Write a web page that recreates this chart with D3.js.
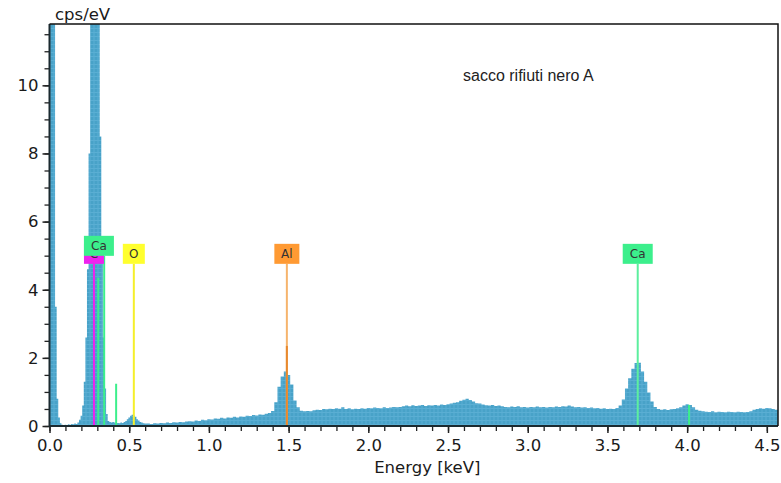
<!DOCTYPE html>
<html>
<head>
<meta charset="utf-8">
<script src="https://cdn.jsdelivr.net/npm/d3@7"></script>
<style>
  body { margin: 0; background: #fff; }
  svg { display: block; }
</style>
</head>
<body>
<div id="chart"></div>
<script>
// spectrum: energy (keV) and counts (cps/eV)
var energyLow = [0.00,0.01,0.02,0.03,0.04,0.05,0.06,0.07,0.08,0.09,
  0.10,0.11,0.12,0.13,0.14,0.15,0.16,0.17,0.18,0.19,
  0.20,0.21,0.22,0.23,0.24,0.25,0.26,0.27,0.28,0.29,
  0.30,0.31,0.32,0.33,0.34,0.35,0.36,0.37,0.38,0.39,
  0.40,0.41,0.42,0.43,0.44,0.45,0.46,0.47,0.48,0.49,
  0.50,0.51,0.52,0.53,0.54,0.55,0.56,0.57,0.58,0.59,0.60];
var countsLow = [14,14,14,14,3.5,0.8,0.25,0.08,0.04,0.03,
  0.04,0.03,0.05,0.04,0.06,0.05,0.07,0.06,0.10,0.18,
  0.30,0.60,1.3,2.6,4.6,8.0,14,14,14,14,
  14,14,8.5,4.8,2.6,1.1,0.35,0.15,0.12,0.10,
  0.12,0.10,0.08,0.09,0.08,0.10,0.09,0.12,0.15,0.20,
  0.25,0.30,0.33,0.31,0.27,0.20,0.16,0.12,0.10,0.08,0.07];

// from 0.62 keV on, one value every 0.02 keV
var energyHigh = [0.62,0.64,0.66,0.68,0.70,0.72,0.74,0.76,0.78,0.80,
  0.82,0.84,0.86,0.88,0.90,0.92,0.94,0.96,0.98,1.00,
  1.02,1.04,1.06,1.08,1.10,1.12,1.14,1.16,1.18,1.20,
  1.22,1.24,1.26,1.28,1.30,1.32,1.34,1.36,1.38,1.40,
  1.42,1.44,1.46,1.48,1.50,1.52,1.54,1.56,1.58,1.60,
  1.62,1.64,1.66,1.68,1.70,1.72,1.74,1.76,1.78,1.80,
  1.82,1.84,1.86,1.88,1.90,1.92,1.94,1.96,1.98,2.00,
  2.02,2.04,2.06,2.08,2.10,2.12,2.14,2.16,2.18,2.20,
  2.22,2.24,2.26,2.28,2.30,2.32,2.34,2.36,2.38,2.40,
  2.42,2.44,2.46,2.48,2.50,2.52,2.54,2.56,2.58,2.60,
  2.62,2.64,2.66,2.68,2.70,2.72,2.74,2.76,2.78,2.80,
  2.82,2.84,2.86,2.88,2.90,2.92,2.94,2.96,2.98,3.00,
  3.02,3.04,3.06,3.08,3.10,3.12,3.14,3.16,3.18,3.20,
  3.22,3.24,3.26,3.28,3.30,3.32,3.34,3.36,3.38,3.40,
  3.42,3.44,3.46,3.48,3.50,3.52,3.54,3.56,3.58,3.60,
  3.62,3.64,3.66,3.68,3.70,3.72,3.74,3.76,3.78,3.80,
  3.82,3.84,3.86,3.88,3.90,3.92,3.94,3.96,3.98,4.00,
  4.02,4.04,4.06,4.08,4.10,4.12,4.14,4.16,4.18,4.20,
  4.22,4.24,4.26,4.28,4.30,4.32,4.34,4.36,4.38,4.40,
  4.42,4.44,4.46,4.48,4.50,4.52,4.54,4.56,4.58];
var countsHigh = [0.07,0.06,0.08,0.07,0.09,0.08,0.10,0.09,0.11,0.10,
  0.12,0.11,0.13,0.14,0.13,0.16,0.15,0.18,0.17,0.20,
  0.19,0.22,0.21,0.24,0.22,0.25,0.24,0.27,0.25,0.28,
  0.27,0.30,0.29,0.32,0.31,0.34,0.33,0.36,0.38,0.44,
  0.70,1.15,1.45,1.60,1.50,1.22,0.75,0.55,0.45,0.43,
  0.44,0.43,0.46,0.48,0.47,0.50,0.49,0.51,0.50,0.52,
  0.51,0.55,0.50,0.52,0.49,0.51,0.50,0.52,0.51,0.53,
  0.52,0.54,0.53,0.52,0.55,0.53,0.54,0.56,0.55,0.56,
  0.58,0.60,0.58,0.61,0.59,0.60,0.62,0.59,0.61,0.60,
  0.62,0.60,0.63,0.62,0.64,0.66,0.68,0.70,0.74,0.77,
  0.80,0.76,0.72,0.67,0.66,0.63,0.61,0.60,0.62,0.59,
  0.60,0.58,0.56,0.55,0.57,0.56,0.58,0.55,0.56,0.54,
  0.56,0.55,0.57,0.55,0.56,0.54,0.56,0.55,0.57,0.56,
  0.58,0.57,0.60,0.57,0.55,0.56,0.54,0.55,0.53,0.54,
  0.52,0.53,0.51,0.52,0.50,0.51,0.50,0.53,0.60,0.78,
  1.10,1.40,1.68,1.85,1.86,1.60,1.30,0.98,0.72,0.56,
  0.50,0.48,0.49,0.47,0.49,0.50,0.52,0.55,0.60,0.64,
  0.62,0.55,0.48,0.45,0.43,0.42,0.41,0.43,0.40,0.42,
  0.41,0.40,0.42,0.41,0.40,0.42,0.41,0.40,0.41,0.43,
  0.48,0.50,0.52,0.51,0.53,0.52,0.50,0.48,0.47];

// element labels
var labelNames  = ["C", "Ca", "O", "Al", "Ca"];
var labelEnergy = [0.279, 0.31, 0.529, 1.489, 3.69];
var labelColors = ["#ee22ee", "#3cef8c", "#ffff2e", "#ff9a33", "#3cef8c"];

// element lines: energy, height (cps/eV), colour
var lineEnergy = [0.279, 0.306, 0.343, 0.418, 0.529, 1.489, 1.489, 3.69, 4.012];
var lineHeight = [4.76, 4.35, 5.0, 1.24, 4.76, 4.76, 2.35, 4.76, 0.62];
var lineColors = ["#ee22ee", "#3cef8c", "#3cef8c", "#3cef8c", "#f5ef2a",
                  "#f6b46c", "#e8892e", "#5cef9e", "#3cef8c"];

var sampleName = "sacco rifiuti nero A";

var svgWidth = 781, svgHeight = 483;
var margin = { top: 24, right: 3, bottom: 57, left: 49.5 };
var width = svgWidth - margin.left - margin.right;
var height = svgHeight - margin.top - margin.bottom;

var svg = d3.select("#chart").append("svg")
  .attr("width", svgWidth)
  .attr("height", svgHeight);

var defs = svg.append("defs");
defs.append("clipPath").attr("id", "plotclip")
  .append("rect").attr("width", width).attr("height", height);

// the blue fill has a faint grid texture
var pat = defs.append("pattern").attr("id", "grid")
  .attr("patternUnits", "userSpaceOnUse")
  .attr("width", 4).attr("height", 4);
pat.append("rect").attr("width", 4).attr("height", 4).attr("fill", "#48a2c8");
pat.append("path").attr("d", "M0,0.5H4M0.5,0V4")
  .attr("stroke", "#5aaed3").attr("stroke-width", 1);

var chartGroup = svg.append("g")
  .attr("transform", `translate(${margin.left}, ${margin.top})`);

var x = d3.scaleLinear().domain([0, 4.57]).range([0, width]);
var y = d3.scaleLinear().domain([0, 11.8]).range([height, 0]);

var spectrum = energyLow.map((e, i) => ({ e: e, v: countsLow[i] }))
  .concat(energyHigh.map((e, i) => ({ e: e, v: countsHigh[i] })));

var area = d3.area()
  .x(d => x(d.e))
  .y0(y(0))
  .y1(d => y(d.v))
  .curve(d3.curveStep);

var plot = chartGroup.append("g").attr("clip-path", "url(#plotclip)");

plot.append("path")
  .datum(spectrum)
  .attr("d", area)
  .attr("fill", "url(#grid)");

// element lines
plot.selectAll(".eline")
  .data(lineEnergy)
  .enter()
  .append("line")
  .attr("x1", d => x(d))
  .attr("x2", d => x(d))
  .attr("y1", y(0))
  .attr("y2", (d, i) => y(lineHeight[i]))
  .attr("stroke", (d, i) => lineColors[i])
  .attr("stroke-width", 2);

// element label boxes
var labelFont = "12px 'DejaVu Sans', sans-serif";
var boxH = 20;
var prevRight = -1e9;
labelNames.forEach(function (name, i) {
  var cx = x(labelEnergy[i]);
  var w = name.length === 1 ? (name === "C" ? 20 : 22) : (name === "Al" ? 25 : 30);
  var top = y(4.76) - boxH;
  if (cx - w / 2 < prevRight) top -= 8;
  prevRight = cx + w / 2;
  var g = chartGroup.append("g");
  g.append("rect")
    .attr("x", cx - w / 2).attr("y", top)
    .attr("width", w).attr("height", boxH)
    .attr("fill", labelColors[i]);
  g.append("text")
    .attr("x", cx).attr("y", top + 14.5)
    .attr("text-anchor", "middle")
    .style("font", labelFont)
    .style("fill", "#333")
    .text(name);
});

// axes
var tickFont = "16.5px 'DejaVu Sans', sans-serif";
var xMajor = d3.range(0, 4.51, 0.5);
var xMinor = d3.range(0, 4.57, 0.1);
var yMinor = d3.range(0, 11.6, 0.5);
var yMajor = d3.range(0, 11, 2);

chartGroup.append("g")
  .attr("transform", `translate(0, ${height})`)
  .call(d3.axisBottom(x).tickValues(xMinor).tickSize(5).tickFormat(""))
  .call(g => g.select(".domain").remove())
  .selectAll("line").attr("stroke", "#222").attr("stroke-width", 1.3);

chartGroup.append("g")
  .attr("transform", `translate(0, ${height})`)
  .call(d3.axisBottom(x).tickValues(xMajor).tickSize(7).tickPadding(6)
    .tickFormat(d3.format(".1f")))
  .call(g => g.select(".domain").remove())
  .call(g => g.selectAll("line").attr("stroke", "#222").attr("stroke-width", 1.5))
  .call(g => g.selectAll("text").style("font", tickFont).style("fill", "#1a1a1a"));

chartGroup.append("g")
  .call(d3.axisLeft(y).tickValues(yMinor).tickSize(5).tickFormat(""))
  .call(g => g.select(".domain").remove())
  .selectAll("line").attr("stroke", "#222").attr("stroke-width", 1.3);

chartGroup.append("g")
  .call(d3.axisLeft(y).tickValues(yMajor).tickSize(7).tickPadding(4))
  .call(g => g.select(".domain").remove())
  .call(g => g.selectAll("line").attr("stroke", "#222").attr("stroke-width", 1.5))
  .call(g => g.selectAll("text").style("font", tickFont).style("fill", "#1a1a1a"));

// frame: left and bottom axis lines, thin top and right border
chartGroup.append("path")
  .attr("d", `M0,0V${height}H${width}`)
  .attr("fill", "none").attr("stroke", "#1b2a30").attr("stroke-width", 2);
chartGroup.append("path")
  .attr("d", `M0,0H${width}V${height}`)
  .attr("fill", "none").attr("stroke", "#111").attr("stroke-width", 1.5);

// titles
svg.append("text")
  .attr("x", 55).attr("y", 19.5)
  .style("font", tickFont).style("fill", "#1a1a1a")
  .text("cps/eV");

svg.append("text")
  .attr("x", margin.left + x(2.37)).attr("y", 473)
  .attr("text-anchor", "middle")
  .style("font", tickFont).style("fill", "#1a1a1a")
  .text("Energy [keV]");

svg.append("text")
  .attr("x", 463).attr("y", 81)
  .style("font", "16px 'Liberation Sans', Arial, sans-serif")
  .style("fill", "#222")
  .text(sampleName);
</script>
</body>
</html>
